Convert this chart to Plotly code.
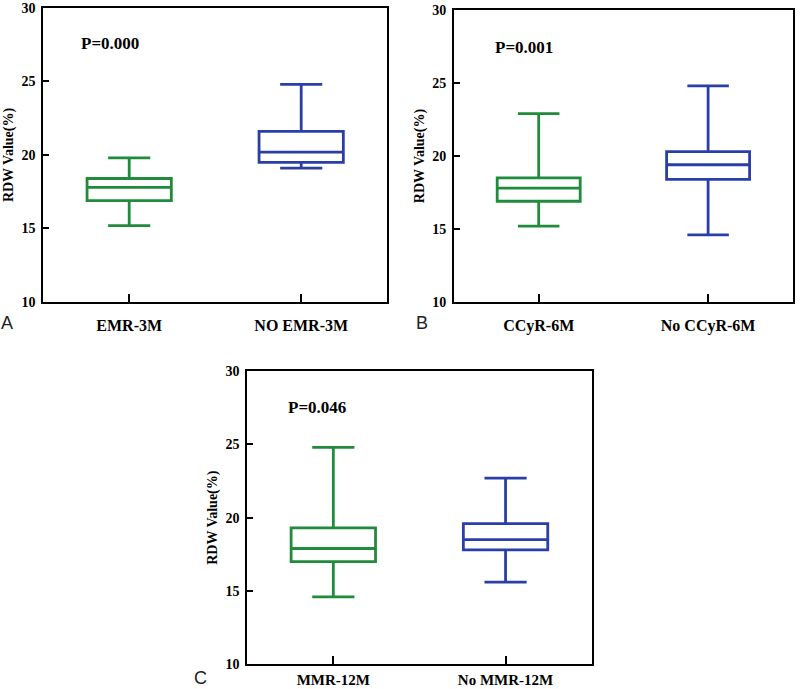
import plotly.graph_objects as go

# ---- data ----
panelA_categories = ["EMR-3M", "NO EMR-3M"]
panelA_lower = [15.2, 19.1]
panelA_q1 = [16.9, 19.5]
panelA_median = [17.8, 20.2]
panelA_q3 = [18.4, 21.6]
panelA_upper = [19.8, 24.8]
panelA_p = "P=0.000"

panelB_categories = ["CCyR-6M", "No CCyR-6M"]
panelB_lower = [15.2, 14.6]
panelB_q1 = [16.9, 18.4]
panelB_median = [17.8, 19.4]
panelB_q3 = [18.5, 20.3]
panelB_upper = [22.9, 24.8]
panelB_p = "P=0.001"

panelC_categories = ["MMR-12M", "No MMR-12M"]
panelC_lower = [14.6, 15.6]
panelC_q1 = [17.0, 17.8]
panelC_median = [17.9, 18.5]
panelC_q3 = [19.3, 19.6]
panelC_upper = [24.8, 22.7]
panelC_p = "P=0.046"

y_ticks = [10, 15, 20, 25, 30]
y_title = "RDW Value(%)"
panel_letters = ["A", "B", "C"]

GREEN = "#1f8b3b"
BLUE = "#2a3ea8"
colors = [GREEN, BLUE]
SERIF = "Liberation Serif"

fig = go.Figure()

panels = [
    ("x", "y", panelA_categories, panelA_lower, panelA_q1, panelA_median, panelA_q3, panelA_upper),
    ("x2", "y2", panelB_categories, panelB_lower, panelB_q1, panelB_median, panelB_q3, panelB_upper),
    ("x3", "y3", panelC_categories, panelC_lower, panelC_q1, panelC_median, panelC_q3, panelC_upper),
]

for xa, ya, cats, lo, q1, med, q3, up in panels:
    for i, c in enumerate(cats):
        fig.add_trace(go.Box(
            x=[c], lowerfence=[lo[i]], q1=[q1[i]], median=[med[i]], q3=[q3[i]],
            upperfence=[up[i]], xaxis=xa, yaxis=ya,
            line=dict(color=colors[i], width=2.8),
            fillcolor="rgba(255,255,255,0)",
            width=0.49, whiskerwidth=0.5, showlegend=False, hoverinfo="skip",
        ))

domains = {
    "A": dict(x=[0.054, 0.484], y=[0.5617, 0.9884]),
    "B": dict(x=[0.5675, 0.991], y=[0.5617, 0.9855]),
    "C": dict(x=[0.309, 0.7396], y=[0.0358, 0.4615]),
}

def xaxis_cfg(dom, anchor, standoff, size=16):
    return dict(
        domain=dom, anchor=anchor, type="category", range=[-0.5, 1.5],
        showline=True, linecolor="black", linewidth=2, mirror=True,
        ticks="inside", ticklen=8, tickwidth=2, tickcolor="black",
        tickfont=dict(family=SERIF, size=size, color="black", weight="bold"),
        ticklabelstandoff=standoff, automargin=False,
        showgrid=False, zeroline=False, fixedrange=True,
    )

def yaxis_cfg(dom, anchor):
    return dict(
        domain=dom, anchor=anchor, range=[10, 30], tickvals=y_ticks,
        showline=True, linecolor="black", linewidth=2, mirror=True,
        ticks="inside", ticklen=6, tickwidth=2, tickcolor="black",
        tickfont=dict(family=SERIF, size=14, color="black", weight="bold"),
        ticklabelstandoff=3, automargin=False,
        title=dict(text=y_title, font=dict(family=SERIF, size=14, color="black", weight="bold"), standoff=4),
        showgrid=False, zeroline=False, fixedrange=True,
    )

fig.update_layout(
    width=800, height=689,
    margin=dict(l=0, r=0, t=0, b=0),
    paper_bgcolor="white", plot_bgcolor="white",
    xaxis=xaxis_cfg(domains["A"]["x"], "y", 8),
    yaxis=yaxis_cfg(domains["A"]["y"], "x"),
    xaxis2=xaxis_cfg(domains["B"]["x"], "y2", 8),
    yaxis2=yaxis_cfg(domains["B"]["y"], "x2"),
    xaxis3=xaxis_cfg(domains["C"]["x"], "y3", 1, 15),
    yaxis3=yaxis_cfg(domains["C"]["y"], "x3"),
)

p_texts = [(panelA_p, "x", "y", 0.105, 0.88), (panelB_p, "x2", "y2", 0.115, 0.87), (panelC_p, "x3", "y3", 0.113, 0.874)]
for txt, xa, ya, px, py in p_texts:
    fig.add_annotation(text=txt, xref=f"{xa} domain", yref=f"{ya} domain", x=px, y=py,
                       xanchor="left", yanchor="middle", showarrow=False,
                       font=dict(family=SERIF, size=17, color="black", weight="bold"))

letter_pos = [(7, 323), (422, 323), (200, 678)]
for letter, (lx, ly) in zip(panel_letters, letter_pos):
    fig.add_annotation(text=letter, xref="paper", yref="paper", x=lx / 800, y=1 - ly / 689,
                       xanchor="center", yanchor="middle", showarrow=False,
                       font=dict(family="Liberation Sans", size=18, color="#222222"))

fig.write_html("out.html", config={"displayModeBar": False},
               post_script="document.body.style.margin='0px';")
